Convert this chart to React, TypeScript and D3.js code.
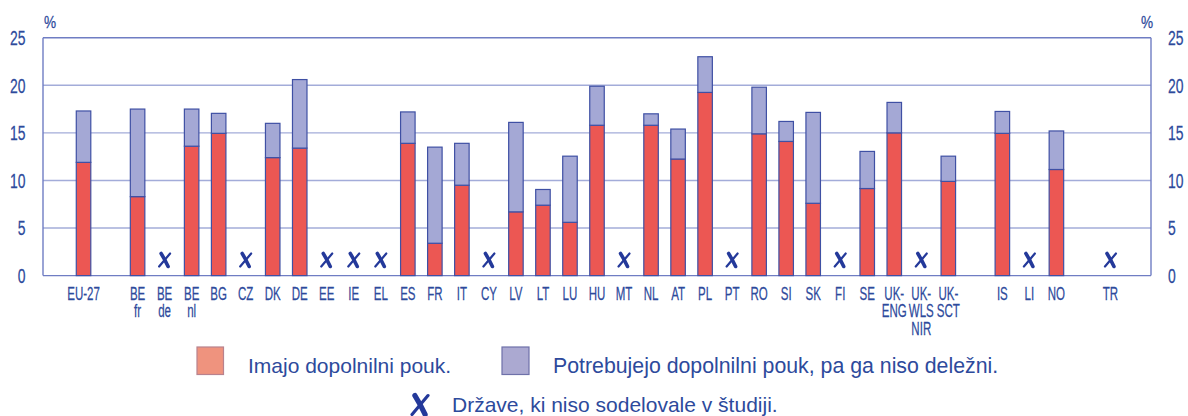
import React from "react";
import * as d3 from "d3";

// ---------- data ----------
const slots = [
  "_g0", "EU-27", "_g1", "BE\nfr", "BE\nde", "BE\nnl", "BG", "CZ", "DK", "DE", "EE", "IE", "EL",
  "ES", "FR", "IT", "CY", "LV", "LT", "LU", "HU", "MT", "NL", "AT", "PL", "PT", "RO", "SI", "SK",
  "FI", "SE", "UK-\nENG", "UK-\nWLS\nNIR", "UK-\nSCT", "_g2", "IS", "LI", "NO", "_g3", "TR", "_g4",
];

const countries = [
  "EU-27", "BE\nfr", "BE\nnl", "BG", "DK", "DE", "ES", "FR", "IT", "LV", "LT", "LU", "HU",
  "NL", "AT", "PL", "RO", "SI", "SK", "SE", "UK-\nENG", "UK-\nSCT", "IS", "NO",
];
// Imajo dopolnilni pouk.
const haveTutoring = [
  11.9, 8.3, 13.6, 14.95, 12.4, 13.4, 13.9, 3.4, 9.5, 6.7, 7.4, 5.6, 15.8,
  15.8, 12.25, 19.25, 14.9, 14.1, 7.6, 9.15, 15.0, 9.9, 14.95, 11.15,
];
// Potrebujejo dopolnilni pouk, pa ga niso deležni.
const needTutoring = [
  5.4, 9.2, 3.9, 2.1, 3.6, 7.2, 3.3, 10.1, 4.4, 9.4, 1.65, 6.95, 4.1,
  1.2, 3.15, 3.75, 4.9, 2.1, 9.55, 3.9, 3.2, 2.65, 2.3, 4.05,
];
// Države, ki niso sodelovale v študiji.
const notParticipating = [
  "BE\nde", "CZ", "EE", "IE", "EL", "CY", "MT", "PT", "FI", "UK-\nWLS\nNIR", "LI", "TR",
];

const yTicks = [0, 5, 10, 15, 20, 25];
const seriesNames = ["Imajo dopolnilni pouk.", "Potrebujejo dopolnilni pouk, pa ga niso deležni."];
const missingLabel = "Države, ki niso sodelovale v študiji.";

// ---------- style ----------
const W = 1188;
const H = 416;
const plotLeft = 43;
const plotRight = 1151;
const plotTop = 37.7;
const plotBottom = 275.6;
const RED = "#EC5753";
const LAV = "#A4A8D5";
const BAR_STROKE = "#3F50A4";
const GRID = "#A3ACD9";
const FRAME = "#6F7DC3";
const TEXT = "#2D4A9C";
const XMARK = "#24399A";
const AXIS_FONT = "'Liberation Sans', Arial, sans-serif";
const LEGEND_FONT = "'Liberation Sans', Arial, sans-serif";

const XMark = ({ cx, cy, s = 1 }: { cx: number; cy: number; s?: number }) => (
  <g transform={`translate(${cx},${cy}) scale(${s})`} stroke={XMARK} strokeLinecap="round" fill="none">
    <path d="M-3.5,-6.5 Q0,-1 3.5,6.5" strokeWidth={3.6} />
    <path d="M5.5,-6.5 L-5.5,6.5" strokeWidth={2.2} />
  </g>
);

// condensed text: horizontally scaled
const CText = ({
  x, y, size, sx, anchor = "middle", children,
}: { x: number; y: number; size: number; sx: number; anchor?: string; children: React.ReactNode }) => (
  <text
    transform={`translate(${x},${y}) scale(${sx},1)`}
    textAnchor={anchor}
    fontFamily={AXIS_FONT}
    fontSize={size}
    fill={TEXT}
    stroke={TEXT}
    strokeWidth={0.25}
  >
    {children}
  </text>
);

export default function App() {
  const x = d3
    .scaleBand<string>()
    .domain(slots)
    .range([plotLeft, plotRight])
    .paddingInner(0.463)
    .paddingOuter(0.2315);
  const y = d3.scaleLinear().domain([0, 25]).range([plotBottom, plotTop]);

  const rows = countries.map((c, i) => ({ c, have: haveTutoring[i], need: needTutoring[i] }));
  const stack = d3.stack<any>().keys(["have", "need"])(rows);
  const fills = [RED, LAV];
  const cx = (s: string) => (x(s) as number) + x.bandwidth() / 2;

  return (
    <svg width={W} height={H} style={{ position: "absolute", left: 0, top: 0 }}>
      <rect width={W} height={H} fill="#fff" />
      {/* grid */}
      {yTicks.map((t) => (
        <line key={t} x1={plotLeft} x2={plotRight} y1={y(t)} y2={y(t)} stroke={t === 0 || t === 25 ? FRAME : GRID} strokeWidth={1.4} />
      ))}
      <line x1={plotLeft} x2={plotLeft} y1={plotTop} y2={plotBottom} stroke={FRAME} strokeWidth={1.4} />
      <line x1={plotRight} x2={plotRight} y1={plotTop} y2={plotBottom} stroke={FRAME} strokeWidth={1.4} />

      {/* y labels */}
      {yTicks.map((t) => (
        <g key={"yl" + t}>
          <CText x={25.5} y={y(t) + 7.4} size={20.5} sx={0.68} anchor="end">{t}</CText>
          <CText x={1168} y={y(t) + 7.4} size={20.5} sx={0.68} anchor="start">{t}</CText>
        </g>
      ))}
      <CText x={44} y={28} size={17} sx={0.8} anchor="start">%</CText>
      <CText x={1153} y={28} size={17} sx={0.8} anchor="end">%</CText>

      {/* bars */}
      {stack.map((layer, li) =>
        layer.map((d) => (
          <rect
            key={li + d.data.c}
            x={x(d.data.c)}
            width={x.bandwidth()}
            y={y(d[1])}
            height={y(d[0]) - y(d[1])}
            fill={fills[li]}
            stroke={BAR_STROKE}
            strokeWidth={1.2}
          />
        ))
      )}

      {/* not participating marks */}
      {notParticipating.map((c) => (
        <XMark key={"x" + c} cx={cx(c)} cy={260} />
      ))}

      {/* x labels */}
      {slots
        .filter((s) => !s.startsWith("_g"))
        .map((s) => (
          <CText key={"xl" + s} x={cx(s)} y={299.5} size={18} sx={0.64}>
            {s.split("\n").map((line, i) => (
              <tspan key={i} x={0} dy={i === 0 ? 0 : 18}>
                {line}
              </tspan>
            ))}
          </CText>
        ))}

      {/* legend */}
      <rect x={197} y={347} width={26.5} height={27.5} fill="#EF937E" stroke="#B8828E" strokeWidth={1.2} />
      <text x={248} y={373} fontFamily={LEGEND_FONT} fontSize={21} fill={TEXT}>{seriesNames[0]}</text>
      <rect x={502} y={347} width={27} height={27.5} fill="#ABA9D1" stroke="#6E71A9" strokeWidth={1.2} />
      <text x={553} y={373} fontFamily={LEGEND_FONT} fontSize={21.3} fill={TEXT}>{seriesNames[1]}</text>
      <XMark cx={420} cy={405} s={1.45} />
      <text x={452} y={412} fontFamily={LEGEND_FONT} fontSize={21} fill={TEXT}>{missingLabel}</text>
    </svg>
  );
}
